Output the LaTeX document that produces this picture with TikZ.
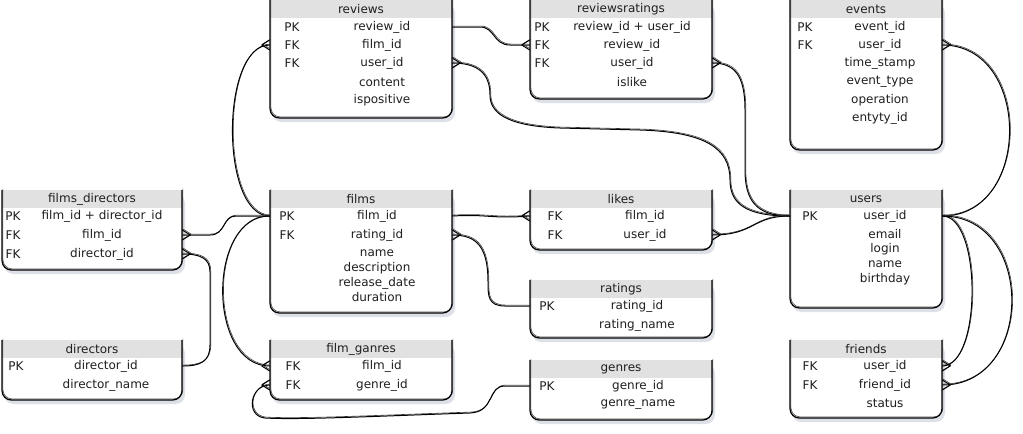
\documentclass[tikz,border=0pt]{standalone}
\usepackage{fontspec}
\setmainfont{DejaVu Sans}
\usetikzlibrary{fit,calc}
\definecolor{hdrgray}{RGB}{225,225,225}
\definecolor{shadowc}{RGB}{200,204,215}
\tikzset{
  conn/.style={draw=black, line width=0.75pt, line cap=round,
    preaction={draw=black!75, line width=0.45pt, transform canvas={shift={(0.6pt,0.7pt)}}}},
  boxline/.style={draw=black, line width=0.9pt,
    preaction={draw=black!70, line width=0.45pt, transform canvas={shift={(0.7pt,0.8pt)}}}},
  txt/.style={inner sep=0pt, font=\fontsize{9}{10}\selectfont, text=black!88},
  ttl/.style={txt},
}
\newcommand\erbox[6]{%
  \fill[shadowc, opacity=0.6, rounded corners=7pt] (#2+2,#3+4) rectangle (#4+3,#5+4);
  \fill[white, rounded corners=7pt] (#2,#3) rectangle (#4,#5);
  \node[fit={(#2,#3) (#4,#5)}, inner sep=0pt] (#1) {};
  \fill[hdrgray] (#2,#3) rectangle (#4,#3+18);
  \draw[boxline, rounded corners=7pt] (#2,#3) -- (#2,#5) -- (#4,#5) -- (#4,#3);
  \node[ttl] (#1-t) at ({(#2+#4)/2},#3+9) {#6};
}
\newcommand\crowft[3]{\draw[conn] #1 ++(#2,0) -- ++(#3,5) ++(#2,-5) -- ++(#3,-5);}
\begin{document}
\begin{tikzpicture}[x=0.75pt,y=-0.75pt]
\useasboundingbox (0,0) rectangle (1023,433);
\fill[white] (0,0) rectangle (1023,433);

% ---------- tables ----------
\erbox{reviews}{270}{0}{452}{118}{reviews}
\node[txt] at (292,27) {PK};
\node[txt] at (292,45) {FK};
\node[txt] at (292,63) {FK};
\node[txt] (rv1) at (382,27) {review\_id};
\node[txt] (rv2) at (382,45) {film\_id};
\node[txt] (rv3) at (382,63) {user\_id};
\node[txt] (rv4) at (382,82) {content};
\node[txt] (rv5) at (382,100) {ispositive};

\erbox{rr}{530}{0}{712}{99}{reviewsratings}
\node[txt] at (542,27) {PK};
\node[txt] at (542,45) {FK};
\node[txt] at (542,63) {FK};
\node[txt] (rr1) at (632,27) {review\_id + user\_id};
\node[txt] (rr2) at (632,45) {review\_id};
\node[txt] (rr3) at (632,63) {user\_id};
\node[txt] (rr4) at (632,82) {islike};

\erbox{events}{790}{0}{942}{150}{events}
\node[txt] at (805,27) {PK};
\node[txt] at (805,45) {FK};
\node[txt] (ev1) at (880,27) {event\_id};
\node[txt] (ev2) at (880,45) {user\_id};
\node[txt] (ev3) at (880,63) {time\_stamp};
\node[txt] (ev4) at (880,82) {event\_type};
\node[txt] (ev5) at (880,100) {operation};
\node[txt] (ev6) at (880,118) {entyty\_id};

\erbox{fdir}{2}{190}{182}{270}{films\_directors}
\node[txt] at (13,216) {PK};
\node[txt] at (13,235) {FK};
\node[txt] at (13,254) {FK};
\node[txt] (fd1) at (102,216) {film\_id + director\_id};
\node[txt] (fd2) at (102,235) {film\_id};
\node[txt] (fd3) at (102,254) {director\_id};

\erbox{dirs}{2}{340}{182}{400}{directors}
\node[txt] at (16,366) {PK};
\node[txt] (di1) at (106,366) {director\_id};
\node[txt] (di2) at (106,385) {director\_name};

\erbox{films}{270}{190}{452}{313}{films}
\node[txt] at (287,216) {PK};
\node[txt] at (287,235) {FK};
\node[txt] (fi1) at (377,216) {film\_id};
\node[txt] (fi2) at (377,235) {rating\_id};
\node[txt] (fi3) at (377,253) {name};
\node[txt] (fi4) at (377,268) {description};
\node[txt] (fi5) at (377,283) {release\_date};
\node[txt] (fi6) at (377,297) {duration};

\erbox{fgan}{270}{340}{452}{400}{film\_ganres}
\node[txt] at (293,366) {FK};
\node[txt] at (293,385) {FK};
\node[txt] (fg1) at (382,366) {film\_id};
\node[txt] (fg2) at (382,385) {genre\_id};

\erbox{likes}{530}{190}{712}{250}{likes}
\node[txt] at (555,216) {FK};
\node[txt] at (555,235) {FK};
\node[txt] (lk1) at (645,216) {film\_id};
\node[txt] (lk2) at (645,235) {user\_id};

\erbox{ratings}{530}{280}{712}{338}{ratings}
\node[txt] at (547,306) {PK};
\node[txt] (ra1) at (637,306) {rating\_id};
\node[txt] (ra2) at (637,325) {rating\_name};

\erbox{genres}{530}{360}{712}{420}{genres}
\node[txt] at (547,386) {PK};
\node[txt] (ge1) at (638,386) {genre\_id};
\node[txt] (ge2) at (638,405) {genre\_name};

\erbox{users}{790}{190}{942}{308}{users}
\node[txt] at (810,216) {PK};
\node[txt] (us1) at (885,216) {user\_id};
\node[txt] (us2) at (885,234) {email};
\node[txt] (us3) at (885,249) {login};
\node[txt] (us4) at (885,264) {name};
\node[txt] (us5) at (885,279) {birthday};

\erbox{friends}{790}{340}{942}{418}{friends}
\node[txt] at (810,366) {FK};
\node[txt] at (810,385) {FK};
\node[txt] (fr1) at (885,366) {user\_id};
\node[txt] (fr2) at (885,385) {friend\_id};
\node[txt] (fr3) at (885,403) {status};

% ---------- connectors ----------
% films.film_id -> reviews.film_id
\draw[conn] (films.west|-fi1) .. controls (220,216) and (220,45) .. (reviews.west|-rv2);
\crowft{(reviews.west|-rv2)}{-8}{8}
% films.film_id -> films_directors.film_id
\draw[conn] (films.west|-fi1) -- (236,216) .. controls (222,216) and (226,235) .. (210,235) -- (fdir.east|-fd2);
\crowft{(fdir.east|-fd2)}{8}{-8}
% directors.director_id -> films_directors.director_id
\draw[conn] (dirs.east|-di1) .. controls (200,366) and (210,362) .. (210,345) -- (210,272) .. controls (210,258) and (200,254) .. (fdir.east|-fd3);
\crowft{(fdir.east|-fd3)}{8}{-8}
% films.film_id -> film_ganres.film_id
\draw[conn] (films.west|-fi1) .. controls (207,216) and (207,366) .. (fgan.west|-fg1);
\crowft{(fgan.west|-fg1)}{-8}{8}
% genres.genre_id -> film_ganres.genre_id
\draw[conn] (genres.west|-ge1) -- (505,386) .. controls (487,386) and (495,412) .. (470,413) .. controls (380,416) and (300,420) .. (265,418) .. controls (245,416) and (250,385) .. (fgan.west|-fg2);
\crowft{(fgan.west|-fg2)}{-8}{8}
% films.film_id -> likes.film_id
\draw[conn] (films.east|-fi1) .. controls (490,214) and (490,219) .. (likes.west|-lk1);
\crowft{(likes.west|-lk1)}{-8}{8}
% ratings.rating_id -> films.rating_id
\draw[conn] (ratings.west|-ra1) -- (505,306) .. controls (488,306) and (488,296) .. (488,282) .. controls (488,246) and (476,235) .. (films.east|-fi2);
\crowft{(films.east|-fi2)}{8}{-8}
% reviews.review_id -> reviewsratings.review_id
\draw[conn] (reviews.east|-rv1) -- (480,27) .. controls (495,27) and (493,45) .. (510,45) -- (rr.west|-rr2);
\crowft{(rr.west|-rr2)}{-8}{8}
% users.user_id -> reviews.user_id
\draw[conn] (users.west|-us1) .. controls (748,216) and (730,205) .. (730,180) .. controls (730,148) and (705,132) .. (640,130) -- (560,128) .. controls (505,126) and (490,112) .. (490,95) .. controls (490,72) and (476,63) .. (reviews.east|-rv3);
\crowft{(reviews.east|-rv3)}{8}{-8}
% users.user_id -> reviewsratings.user_id
\draw[conn] (users.west|-us1) .. controls (756,216) and (745,200) .. (745,170) -- (745,110) .. controls (745,76) and (735,63) .. (rr.east|-rr3);
\crowft{(rr.east|-rr3)}{8}{-8}
% users.user_id -> likes.user_id
\draw[conn] (users.west|-us1) .. controls (752,216) and (755,235) .. (likes.east|-lk2);
\crowft{(likes.east|-lk2)}{8}{-8}
% users.user_id -> events.user_id
\draw[conn] (users.east|-us1) .. controls (1032,216) and (1032,45) .. (events.east|-ev2);
\crowft{(events.east|-ev2)}{8}{-8}
% users.user_id -> friends.user_id
\draw[conn] (users.east|-us1) .. controls (982,216) and (982,366) .. (friends.east|-fr1);
\crowft{(friends.east|-fr1)}{8}{-8}
% users.user_id -> friends.friend_id
\draw[conn] (users.east|-us1) .. controls (1035,216) and (1035,385) .. (friends.east|-fr2);
\crowft{(friends.east|-fr2)}{8}{-8}
\end{tikzpicture}
\end{document}
